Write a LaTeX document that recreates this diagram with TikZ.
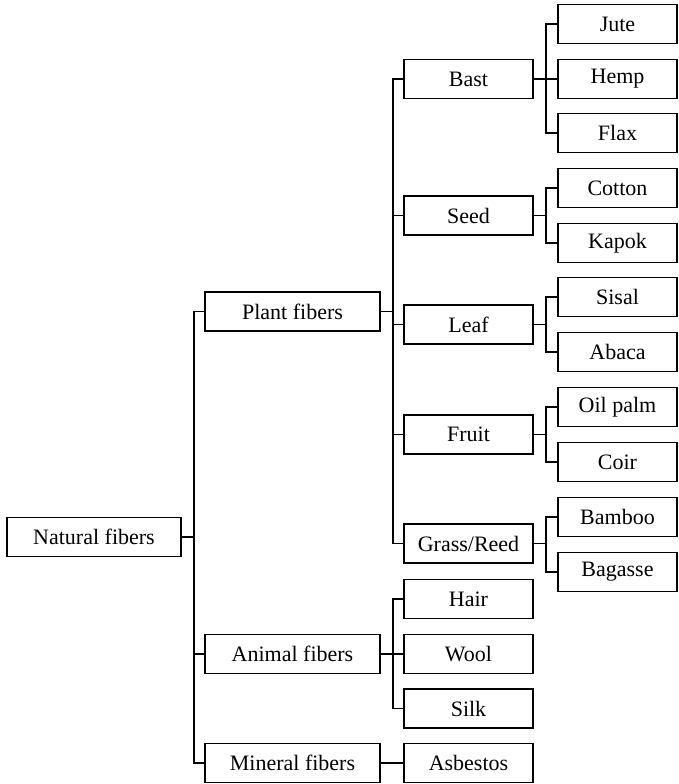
\documentclass[tikz,border=0pt]{standalone}
\usepackage{fontspec}
\setmainfont{Liberation Serif}
\usepackage{tikz}

\begin{document}
\begin{tikzpicture}[x=0.5pt,y=-0.5pt,line width=0.9pt,
    box/.style={draw,rectangle,minimum height=19.5pt,inner sep=0pt,
      font=\fontsize{11}{13}\selectfont},
    lvlzero/.style={box,minimum width=87pt},
    lvlone/.style={box,minimum width=87.5pt},
    lvltwo/.style={box,minimum width=64.5pt},
    lvlthree/.style={box,minimum width=59.5pt}]
      \useasboundingbox (0,0) rectangle (679,784);

      \node [lvlzero] (nat) at (94,537) {Natural fibers};

      \node [lvlone] (plant) at (292.5,311.5) {Plant fibers};
      \node [lvlone] (animal) at (292.5,654) {Animal fibers};
      \node [lvlone] (mineral) at (292.5,763) {Mineral fibers};

      \node [lvltwo] (bast) at (468.5,79) {Bast};
      \node [lvltwo] (seed) at (468.5,215.5) {Seed};
      \node [lvltwo] (leaf) at (468.5,324.5) {Leaf};
      \node [lvltwo] (fruit) at (468.5,434.5) {Fruit};
      \node [lvltwo] (grass) at (468.5,543.5) {Grass/Reed};
      \node [lvltwo] (hair) at (468.5,599) {Hair};
      \node [lvltwo] (wool) at (468.5,654) {Wool};
      \node [lvltwo] (silk) at (468.5,708.5) {Silk};
      \node [lvltwo] (asbestos) at (468.5,763) {Asbestos};

      \node [lvlthree] (jute) at (617.5,24) {Jute};
      \node [lvlthree] (hemp) at (617.5,79) {Hemp};
      \node [lvlthree] (flax) at (617.5,133) {Flax};
      \node [lvlthree] (cotton) at (617.5,188) {Cotton};
      \node [lvlthree] (kapok) at (617.5,243) {Kapok};
      \node [lvlthree] (sisal) at (617.5,297) {Sisal};
      \node [lvlthree] (abaca) at (617.5,352) {Abaca};
      \node [lvlthree] (oilpalm) at (617.5,407) {Oil palm};
      \node [lvlthree] (coir) at (617.5,462) {Coir};
      \node [lvlthree] (bamboo) at (617.5,517) {Bamboo};
      \node [lvlthree] (bagasse) at (617.5,572) {Bagasse};

      % elbow connectors
      \foreach \c in {plant,animal,mineral}
        \draw (nat.east) -- ++(12,0) |- (\c.west);
      \foreach \c in {bast,seed,leaf,fruit,grass}
        \draw (plant.east) -- ++(12,0) |- (\c.west);
      \foreach \c in {hair,wool,silk}
        \draw (animal.east) -- ++(12,0) |- (\c.west);
      \draw (mineral.east) -- (asbestos.west);
      \foreach \c in {jute,hemp,flax}
        \draw (bast.east) -- ++(12,0) |- (\c.west);
      \foreach \c in {cotton,kapok}
        \draw (seed.east) -- ++(12,0) |- (\c.west);
      \foreach \c in {sisal,abaca}
        \draw (leaf.east) -- ++(12,0) |- (\c.west);
      \foreach \c in {oilpalm,coir}
        \draw (fruit.east) -- ++(12,0) |- (\c.west);
      \foreach \c in {bamboo,bagasse}
        \draw (grass.east) -- ++(12,0) |- (\c.west);
    \end{tikzpicture}
\end{document}
